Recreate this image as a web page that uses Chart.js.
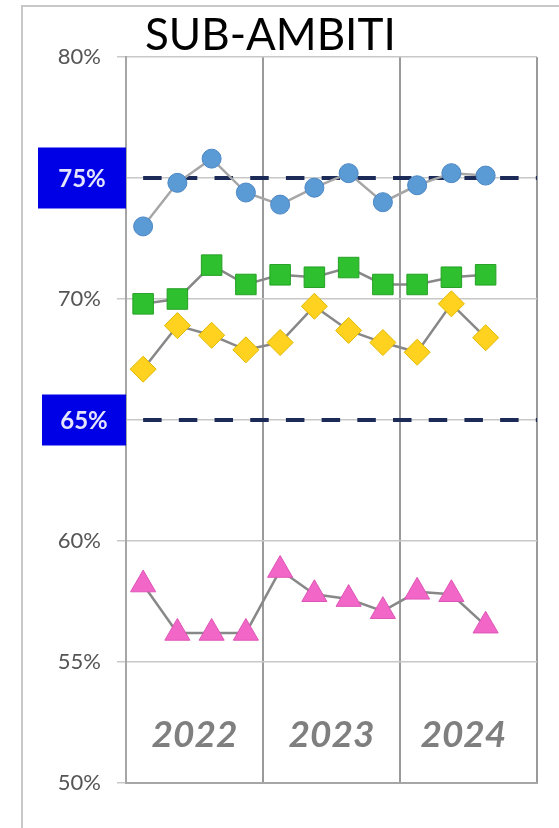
<!DOCTYPE html>
<html>
<head>
<meta charset="utf-8">
<script src="https://cdn.jsdelivr.net/npm/chart.js@4"></script>
<style>
  html, body { margin: 0; padding: 0; background: #fff; }
  canvas { display: block; }
</style>
</head>
<body>
<canvas id="chart" width="559" height="828"></canvas>
<script>
const title = 'SUB-AMBITI';
const years = ['2022', '2023', '2024'];
const slotsPerYear = 4;
const targets = [75, 65];

const blueSeries = [73.0, 74.8, 75.8, 74.4, 73.9, 74.6, 75.2, 74.0, 74.7, 75.2, 75.1];
const greenSeries = [69.8, 70.0, 71.4, 70.6, 71.0, 70.9, 71.3, 70.6, 70.6, 70.9, 71.0];
const yellowSeries = [67.1, 68.9, 68.5, 67.9, 68.2, 69.7, 68.7, 68.2, 67.8, 69.8, 68.4];
const pinkSeries = [58.2, 56.2, 56.2, 56.2, 58.8, 57.8, 57.6, 57.1, 57.9, 57.8, 56.5];

const totalSlots = years.length * slotsPerYear;
const toPoints = arr => arr.map((v, i) => ({ x: i + 0.5, y: v }));

function seriesSet(arr, style, radius, fill, border, lineColor) {
    return {
        data: toPoints(arr),
        borderColor: lineColor,
        borderWidth: 2.5,
        pointStyle: style,
        pointRadius: radius,
        pointBackgroundColor: fill,
        pointBorderColor: border,
        pointBorderWidth: 1,
        tension: 0,
        order: 1
    };
}

const targetSets = targets.map(t => ({
    data: [{ x: 0.5, y: t }, { x: totalSlots, y: t }],
    borderColor: '#1c2a57',
    borderWidth: 4,
    borderDash: [18.5, 17.2],
    pointRadius: 0,
    order: 10
}));

const decorations = {
    id: 'decorations',
    beforeDraw(chart) {
        const ctx = chart.ctx;
        ctx.save();
        ctx.strokeStyle = '#c8c8c8';
        ctx.lineWidth = 2;
        ctx.strokeRect(22, 6, 600, 900);
        ctx.restore();
    },
    afterDraw(chart) {
        const { ctx, scales: { x, y }, chartArea } = chart;
        ctx.save();

        // year labels inside the plot
        ctx.font = 'italic bold 37px Lato';
        ctx.fillStyle = '#7f7f7f';
        ctx.textAlign = 'center';
        ctx.textBaseline = 'middle';
        years.forEach((yr, i) => {
            ctx.fillText(yr, x.getPixelForValue(i * slotsPerYear + slotsPerYear / 2 - (i === 2 ? 0.15 : 0)), y.getPixelForValue(52));
        });

        // blue target boxes
        const boxes = [{ left: 38, h: 61 }, { left: 42, h: 51 }];
        targets.forEach((t, i) => {
            const cy = y.getPixelForValue(t);
            const b = boxes[i];
            ctx.fillStyle = '#0000e6';
            ctx.fillRect(b.left, cy - b.h / 2, chartArea.left - b.left, b.h);
            ctx.fillStyle = '#e4e4ff';
            ctx.font = 'bold 24px Lato';
            ctx.fillText(t + '%', (b.left + chartArea.left) / 2, cy + 1);
        });

        // title
        ctx.font = '44px Lato';
        ctx.fillStyle = '#000';
        ctx.textAlign = 'left';
        ctx.textBaseline = 'alphabetic';
        ctx.fillText(title, 145, 50);
        ctx.restore();
    }
};

new Chart(document.getElementById('chart'), {
    type: 'line',
    data: {
        datasets: [
            seriesSet(blueSeries, 'circle', 9.5, '#5b9bd5', '#4a86c5', '#a6a6a6'),
            seriesSet(greenSeries, 'rect', 14.5, '#2fc02f', '#25a025', '#888888'),
            seriesSet(yellowSeries, 'rectRot', 13, '#ffd21f', '#e0b800', '#888888'),
            seriesSet(pinkSeries, 'triangle', 14.5, '#f266c8', '#dd55b5', '#888888'),
            ...targetSets
        ]
    },
    options: {
        responsive: false,
        animation: false,
        layout: { padding: { top: 57, right: 22, bottom: 45, left: 0 } },
        plugins: { legend: { display: false }, tooltip: { enabled: false } },
        scales: {
            x: {
                type: 'linear',
                min: 0,
                max: totalSlots,
                ticks: { display: false, stepSize: slotsPerYear },
                grid: { color: '#9a9a9a', lineWidth: 2, drawTicks: false },
                border: { color: '#a6a6a6', width: 2 },
                afterFit(s) { s.height = 0; }
            },
            y: {
                min: 50,
                max: 80,
                ticks: {
                    stepSize: 5,
                    padding: 16,
                    color: '#555555',
                    font: { family: 'Lato', size: 22 },
                    callback: v => targets.includes(v) ? '' : v + '%'
                },
                grid: { color: '#c8c8c8', lineWidth: 1.5, tickLength: 9 },
                border: { color: '#a6a6a6', width: 2 },
                afterFit(s) { s.width = 126; }
            }
        }
    },
    plugins: [decorations]
});
</script>
</body>
</html>
